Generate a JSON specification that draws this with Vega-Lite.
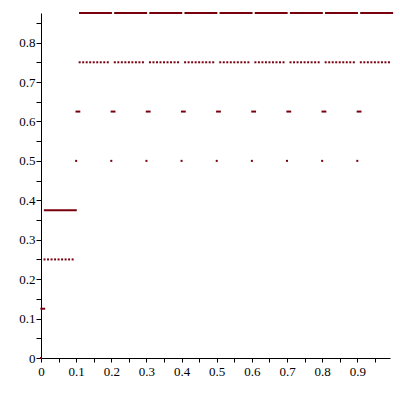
{
  "$schema": "https://vega.github.io/schema/vega-lite/v6.json",
  "width": 349,
  "height": 345,
  "autosize": "none",
  "padding": {"left": 41, "top": 13, "right": 10, "bottom": 42},
  "background": "white",
  "config": {
    "view": {"stroke": null},
    "axis": {
      "grid": false,
      "domainColor": "black",
      "tickColor": "black",
      "labelColor": "black",
      "labelFont": "Liberation Serif, Times New Roman, serif",
      "labelFontSize": 13,
      "title": null
    }
  },
  "datasets": {
    "segs": [
      {"x": 0.001, "x2": 0.009, "y": 0.125},
      {"x": 0.011, "x2": 0.099, "y": 0.375},
      {"x": 0.101, "x2": 0.109, "y": 0.625},
      {"x": 0.201, "x2": 0.209, "y": 0.625},
      {"x": 0.301, "x2": 0.309, "y": 0.625},
      {"x": 0.401, "x2": 0.409, "y": 0.625},
      {"x": 0.501, "x2": 0.509, "y": 0.625},
      {"x": 0.601, "x2": 0.609, "y": 0.625},
      {"x": 0.701, "x2": 0.709, "y": 0.625},
      {"x": 0.801, "x2": 0.809, "y": 0.625},
      {"x": 0.901, "x2": 0.909, "y": 0.625},
      {"x": 0.111, "x2": 0.199, "y": 0.875},
      {"x": 0.211, "x2": 0.299, "y": 0.875},
      {"x": 0.311, "x2": 0.399, "y": 0.875},
      {"x": 0.411, "x2": 0.499, "y": 0.875},
      {"x": 0.511, "x2": 0.599, "y": 0.875},
      {"x": 0.611, "x2": 0.699, "y": 0.875},
      {"x": 0.711, "x2": 0.799, "y": 0.875},
      {"x": 0.811, "x2": 0.899, "y": 0.875},
      {"x": 0.911, "x2": 0.999, "y": 0.875}
    ],
    "pts": [
      {"x": 0, "y": 0},
      {"x": 0.01, "y": 0.25}, {"x": 0.02, "y": 0.25}, {"x": 0.03, "y": 0.25}, {"x": 0.04, "y": 0.25}, {"x": 0.05, "y": 0.25}, {"x": 0.06, "y": 0.25}, {"x": 0.07, "y": 0.25}, {"x": 0.08, "y": 0.25}, {"x": 0.09, "y": 0.25},
      {"x": 0.1, "y": 0.5}, {"x": 0.2, "y": 0.5}, {"x": 0.3, "y": 0.5}, {"x": 0.4, "y": 0.5}, {"x": 0.5, "y": 0.5}, {"x": 0.6, "y": 0.5}, {"x": 0.7, "y": 0.5}, {"x": 0.8, "y": 0.5}, {"x": 0.9, "y": 0.5},
      {"x": 0.11, "y": 0.75}, {"x": 0.12, "y": 0.75}, {"x": 0.13, "y": 0.75}, {"x": 0.14, "y": 0.75}, {"x": 0.15, "y": 0.75}, {"x": 0.16, "y": 0.75}, {"x": 0.17, "y": 0.75}, {"x": 0.18, "y": 0.75}, {"x": 0.19, "y": 0.75},
      {"x": 0.21, "y": 0.75}, {"x": 0.22, "y": 0.75}, {"x": 0.23, "y": 0.75}, {"x": 0.24, "y": 0.75}, {"x": 0.25, "y": 0.75}, {"x": 0.26, "y": 0.75}, {"x": 0.27, "y": 0.75}, {"x": 0.28, "y": 0.75}, {"x": 0.29, "y": 0.75},
      {"x": 0.31, "y": 0.75}, {"x": 0.32, "y": 0.75}, {"x": 0.33, "y": 0.75}, {"x": 0.34, "y": 0.75}, {"x": 0.35, "y": 0.75}, {"x": 0.36, "y": 0.75}, {"x": 0.37, "y": 0.75}, {"x": 0.38, "y": 0.75}, {"x": 0.39, "y": 0.75},
      {"x": 0.41, "y": 0.75}, {"x": 0.42, "y": 0.75}, {"x": 0.43, "y": 0.75}, {"x": 0.44, "y": 0.75}, {"x": 0.45, "y": 0.75}, {"x": 0.46, "y": 0.75}, {"x": 0.47, "y": 0.75}, {"x": 0.48, "y": 0.75}, {"x": 0.49, "y": 0.75},
      {"x": 0.51, "y": 0.75}, {"x": 0.52, "y": 0.75}, {"x": 0.53, "y": 0.75}, {"x": 0.54, "y": 0.75}, {"x": 0.55, "y": 0.75}, {"x": 0.56, "y": 0.75}, {"x": 0.57, "y": 0.75}, {"x": 0.58, "y": 0.75}, {"x": 0.59, "y": 0.75},
      {"x": 0.61, "y": 0.75}, {"x": 0.62, "y": 0.75}, {"x": 0.63, "y": 0.75}, {"x": 0.64, "y": 0.75}, {"x": 0.65, "y": 0.75}, {"x": 0.66, "y": 0.75}, {"x": 0.67, "y": 0.75}, {"x": 0.68, "y": 0.75}, {"x": 0.69, "y": 0.75},
      {"x": 0.71, "y": 0.75}, {"x": 0.72, "y": 0.75}, {"x": 0.73, "y": 0.75}, {"x": 0.74, "y": 0.75}, {"x": 0.75, "y": 0.75}, {"x": 0.76, "y": 0.75}, {"x": 0.77, "y": 0.75}, {"x": 0.78, "y": 0.75}, {"x": 0.79, "y": 0.75},
      {"x": 0.81, "y": 0.75}, {"x": 0.82, "y": 0.75}, {"x": 0.83, "y": 0.75}, {"x": 0.84, "y": 0.75}, {"x": 0.85, "y": 0.75}, {"x": 0.86, "y": 0.75}, {"x": 0.87, "y": 0.75}, {"x": 0.88, "y": 0.75}, {"x": 0.89, "y": 0.75},
      {"x": 0.91, "y": 0.75}, {"x": 0.92, "y": 0.75}, {"x": 0.93, "y": 0.75}, {"x": 0.94, "y": 0.75}, {"x": 0.95, "y": 0.75}, {"x": 0.96, "y": 0.75}, {"x": 0.97, "y": 0.75}, {"x": 0.98, "y": 0.75}, {"x": 0.99, "y": 0.75}
    ]
  },
  "encoding": {
    "x": {
      "field": "x", "type": "quantitative",
      "scale": {"domain": [0, 0.993], "nice": false, "zero": false},
      "axis": {
        "values": [0, 0.05, 0.1, 0.15, 0.2, 0.25, 0.3, 0.35, 0.4, 0.45, 0.5, 0.55, 0.6, 0.65, 0.7, 0.75, 0.8, 0.85, 0.9, 0.95],
        "labelExpr": "round(datum.value*20) % 2 == 0 ? format(datum.value, '~g') : ''",
        "tickSize": 4, "labelPadding": 3, "labelFlush": false, "labelOverlap": false
      }
    },
    "y": {
      "field": "y", "type": "quantitative",
      "scale": {"domain": [0, 0.875], "nice": false, "zero": false},
      "axis": {
        "values": [0, 0.05, 0.1, 0.15, 0.2, 0.25, 0.3, 0.35, 0.4, 0.45, 0.5, 0.55, 0.6, 0.65, 0.7, 0.75, 0.8, 0.85],
        "labelExpr": "round(datum.value*20) % 2 == 0 ? format(datum.value, '~g') : ''",
        "tickSize": 5, "labelPadding": 1, "labelFlush": false, "labelOverlap": false
      }
    }
  },
  "layer": [
    {
      "data": {"name": "segs"},
      "mark": {"type": "rule", "color": "#78000E", "strokeWidth": 2, "strokeCap": "square"},
      "encoding": {"x2": {"field": "x2"}}
    },
    {
      "data": {"name": "pts"},
      "mark": {"type": "square", "color": "#78000E", "size": 4, "opacity": 1, "filled": true}
    }
  ]
}
